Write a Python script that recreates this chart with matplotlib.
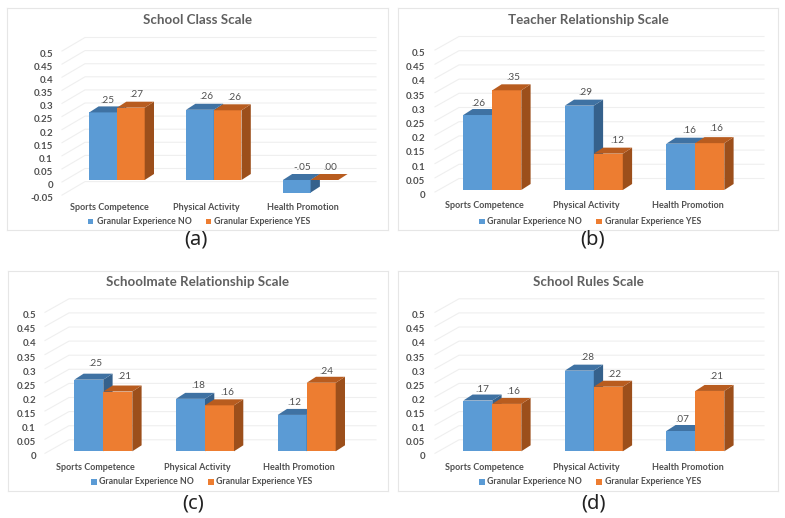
import matplotlib
matplotlib.use("Agg")
import matplotlib.pyplot as plt
from matplotlib.patches import Rectangle

W, H = 785, 518
plt.rcParams['font.family'] = ['Lato', 'DejaVu Sans']

categories = ["Sports Competence", "Physical Activity", "Health Promotion"]
series_names = ["Granular Experience NO", "Granular Experience YES"]
ticks_pos = [0, 0.05, 0.1, 0.15, 0.2, 0.25, 0.3, 0.35, 0.4, 0.45, 0.5]
tick_text = ["0", "0.05", "0.1", "0.15", "0.2", "0.25", "0.3", "0.35", "0.4", "0.45", "0.5"]

# bar heights, labels as printed
a_no = [0.258, 0.268, -0.048]
a_yes = [0.276, 0.266, 0.0]
a_no_lab = [".25", ".26", "-.05"]
a_yes_lab = [".27", ".26", ".00"]

b_no = [0.264, 0.297, 0.163]
b_yes = [0.351, 0.128, 0.165]
b_no_lab = [".26", ".29", ".16"]
b_yes_lab = [".35", ".12", ".16"]

c_no = [0.254, 0.186, 0.129]
c_yes = [0.212, 0.163, 0.243]
c_no_lab = [".25", ".18", ".12"]
c_yes_lab = [".21", ".16", ".24"]

d_no = [0.180, 0.286, 0.072]
d_yes = [0.168, 0.229, 0.214]
d_no_lab = [".17", ".28", ".07"]
d_yes_lab = [".16", ".22", ".21"]

# colours: front, top, side
BLUE = ("#5B9BD5", "#3F72A3", "#35618C")
ORANGE = ("#ED7D31", "#B85C1F", "#9C4F1B")
GRID = "#EFEFEF"
TXT = "#505050"

# pixel layout of each panel
panels = [
    dict(title="School Class Scale", cap="(a)", no=a_no, yes=a_yes, no_lab=a_no_lab, yes_lab=a_yes_lab,
         frame=(7, 388, 8, 230), zero=180, scale=262, c0=117, step=96.8, bw=27.7,
         wall=(62, 85, 376), tick_r=53, low=-0.05, cat_y=208, leg_y=221.5, leg_x=(88, 97, 206, 214),
         title_y=20.5, cap_xy=(196, 239),
         no_off=[(4, -12), (6, -13), (6, -12)], yes_off=[(6, -13), (7, -13), (6, -13)]),
    dict(title="Teacher Relationship Scale", cap="(b)", no=b_no, yes=b_yes, no_lab=b_no_lab, yes_lab=b_yes_lab,
         frame=(398, 778, 8, 230), zero=190, scale=284, c0=492.3, step=101.5, bw=29,
         wall=(435, 459, 764), tick_r=425, low=0, cat_y=206, leg_y=221.5, leg_x=(479, 487, 596, 605),
         title_y=20.5, cap_xy=(593, 239),
         no_off=[(1, -12), (6, -13), (9, -13)], yes_off=[(7, -13), (9, -13), (7, -15)]),
    dict(title="Schoolmate Relationship Scale", cap="(c)", no=c_no, yes=c_yes, no_lab=c_no_lab, yes_lab=c_yes_lab,
         frame=(8, 388, 271, 491), zero=451.3, scale=282, c0=103.3, step=101.7, bw=29,
         wall=(45, 69, 376), tick_r=36, low=0, cat_y=467, leg_y=482, leg_x=(91, 99, 208, 216),
         title_y=282.5, cap_xy=(193, 503),
         no_off=[(7, -16), (8, -13), (2, -12)], yes_off=[(7, -15), (8, -13), (5, -11)]),
    dict(title="School Rules Scale", cap="(d)", no=d_no, yes=d_yes, no_lab=d_no_lab, yes_lab=d_yes_lab,
         frame=(398, 778, 271, 491), zero=451.3, scale=282, c0=492.3, step=101.5, bw=29,
         wall=(435, 459, 764), tick_r=425, low=0, cat_y=467, leg_y=482, leg_x=(479, 487, 596, 605),
         title_y=282.5, cap_xy=(593, 503),
         no_off=[(5, -11), (8, -13), (2, -11)], yes_off=[(7, -12), (6, -12), (7, -14)]),
]

DX_PX, DY_PX = 9.3, 6.0  # bar depth


def draw_bar(ax, x, w, v, dx, dy, cols):
    x0, x1 = x, x + w
    top = max(v, 0)
    if v != 0:
        ax.bar(x0, v, width=w, align='edge', color=cols[0], linewidth=0, zorder=3)
        bottom = min(v, 0)
        ax.fill([x1, x1 + dx, x1 + dx, x1], [bottom, bottom + dy, top + dy, top],
                color=cols[2], linewidth=0, zorder=3)
    ax.fill([x0, x0 + dx, x1 + dx, x1], [top, top + dy, top + dy, top],
            color=cols[1], linewidth=0, zorder=3)


fig = plt.figure(figsize=(W / 100, H / 100), dpi=100)

for p in panels:
    l, r, t, b = p["frame"]
    ax = fig.add_axes([l / W, 1 - b / H, (r - l) / W, (b - t) / H])
    zero, scale, c0, step = p["zero"], p["scale"], p["c0"], p["step"]
    ax.set_xlim((l - c0) / step, (r - c0) / step)
    ax.set_ylim((zero - b) / scale, (zero - t) / scale)
    ax.set_xticks([])
    ax.set_yticks([])
    for s in ax.spines.values():
        s.set_color("#E6E6E6")
        s.set_linewidth(0.8)

    def px_x(px):
        return (px - c0) / step

    def px_y(py):
        return (zero - py) / scale

    # back wall grid
    front, back, end = p["wall"]
    levels = ticks_pos
    labels = tick_text
    if p["low"] < 0:
        levels = [p["low"]] + levels
        labels = ["-0.05"] + labels
    for v, lab in zip(levels, labels):
        y_b = v + 11.5 / scale
        y_f = v - 2 / scale
        ax.plot([px_x(front), px_x(back), px_x(end)], [y_f, y_b, y_b], color=GRID, lw=0.8, zorder=1)
        ax.text(px_x(p["tick_r"]), v - 5.5 / scale, lab, ha='right', va='center',
                fontsize=7, fontweight='bold', color=TXT)

    # bars
    w = p["bw"] / step
    dx, dy = DX_PX / step, DY_PX / scale
    for i in range(len(categories)):
        draw_bar(ax, i - w, w, p["no"][i], dx, dy, BLUE)
        draw_bar(ax, i, w, p["yes"][i], dx, dy, ORANGE)
        ax.annotate(p["no_lab"][i], (i - w / 2, max(p["no"][i], 0)), xytext=(p["no_off"][i][0] * 0.72, -p["no_off"][i][1] * 0.72),
                    textcoords='offset points', ha='center', va='center', fontsize=7.2, color=TXT, zorder=5)
        ax.annotate(p["yes_lab"][i], (i + w / 2, max(p["yes"][i], 0)), xytext=(p["yes_off"][i][0] * 0.72, -p["yes_off"][i][1] * 0.72),
                    textcoords='offset points', ha='center', va='center', fontsize=7.2, color=TXT, zorder=5)
        ax.text(i - 7.5 / step, px_y(p["cat_y"]), categories[i], ha='center', va='center',
                fontsize=6.5, fontweight='bold', color=TXT)

    ax.text(px_x((l + r) / 2), px_y(p["title_y"]), p["title"],
            ha='center', va='center', fontsize=9.6, fontweight='bold', color="#606060")

    # legend
    sx1, tx1, sx2, tx2 = p["leg_x"]
    ly = p["leg_y"]
    for sx, tx, name, cols in ((sx1, tx1, series_names[0], BLUE), (sx2, tx2, series_names[1], ORANGE)):
        ax.add_patch(Rectangle((px_x(sx), px_y(ly + 2.6)), 5.5 / step, 5.2 / scale, color=cols[0], linewidth=0))
        ax.text(px_x(tx), px_y(ly), name, ha='left', va='center', fontsize=6.3, fontweight='bold', color=TXT)

    # caption under the frame
    fig.text(p["cap_xy"][0] / W, 1 - p["cap_xy"][1] / H, p["cap"], ha='center', va='center',
             fontsize=14.5, color="#222222", family=['Noto Sans', 'DejaVu Sans'])

fig.savefig("out.png", dpi=100)
